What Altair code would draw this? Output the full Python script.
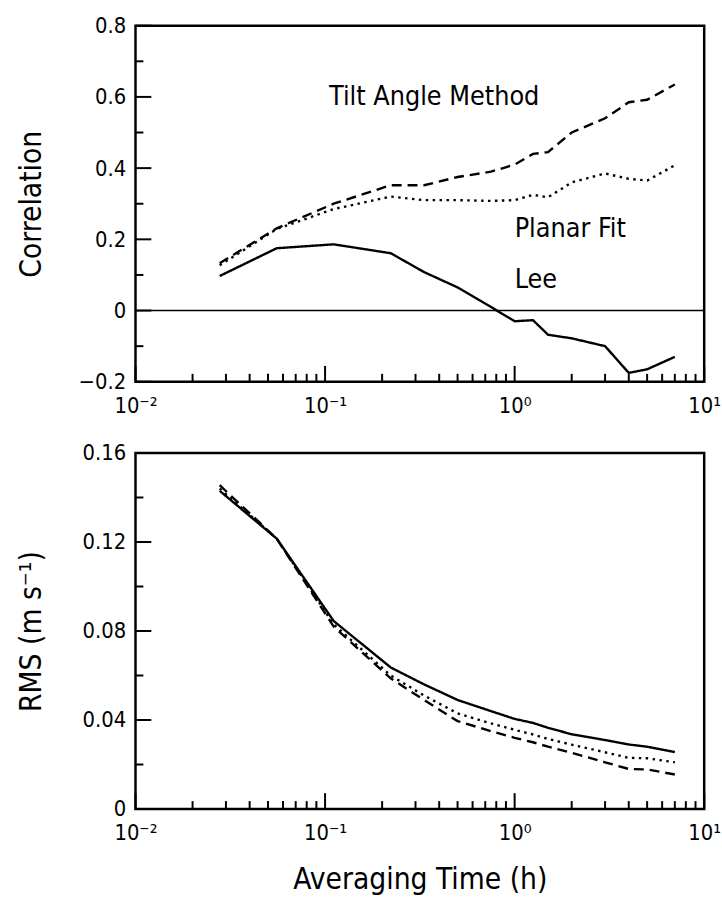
import altair as alt
import pandas as pd

# ---------------- data ----------------
hours = [0.0278, 0.0556, 0.111, 0.222, 0.333, 0.5, 0.75, 1.0, 1.25, 1.5, 2.0, 3.0, 4.0, 5.0, 7.0]

corr_tilt = [0.133, 0.231, 0.300, 0.352, 0.352, 0.375, 0.390, 0.410, 0.440, 0.445, 0.500, 0.540, 0.585, 0.592, 0.635]
corr_planar = [0.127, 0.229, 0.285, 0.320, 0.310, 0.310, 0.308, 0.310, 0.325, 0.318, 0.360, 0.385, 0.370, 0.365, 0.408]
corr_lee = [0.097, 0.175, 0.186, 0.161, 0.108, 0.065, 0.010, -0.030, -0.027, -0.068, -0.078, -0.100, -0.175, -0.165, -0.130]

rms_tilt = [0.1455, 0.1215, 0.0820, 0.0587, 0.0490, 0.0395, 0.0350, 0.0320, 0.0300, 0.0280, 0.0253, 0.0210, 0.0180, 0.0178, 0.0155]
rms_planar = [0.1440, 0.1215, 0.0830, 0.0600, 0.0510, 0.0430, 0.0385, 0.0356, 0.0335, 0.0315, 0.0289, 0.0255, 0.0230, 0.0228, 0.0210]
rms_lee = [0.1430, 0.1215, 0.0845, 0.0636, 0.0560, 0.0490, 0.0440, 0.0405, 0.0387, 0.0365, 0.0336, 0.0310, 0.0290, 0.0280, 0.0256]

methods = ["Tilt Angle Method", "Planar Fit", "Lee"]
label_text = ["Tilt Angle Method", "Planar Fit", "Lee"]
label_x = [0.105, 1.0, 1.0]
label_y = [0.6, 0.23, 0.085]

x_major = [0.01, 0.1, 1.0, 10.0]
x_minor = [m * d for d in (0.01, 0.1, 1.0) for m in range(2, 10)]
corr_major = [-0.2, 0.0, 0.2, 0.4, 0.6, 0.8]
corr_minor = [-0.1, 0.1, 0.3, 0.5, 0.7]
rms_major = [0.0, 0.04, 0.08, 0.12, 0.16]
rms_minor = [0.02, 0.06, 0.10, 0.14]

# ---------------- styling ----------------
FONT = "Liberation Sans Narrow, DejaVu Sans Condensed, Liberation Sans, sans-serif"
W, H = 575, 360
BIG, SMALL = 16, 8

xscale = alt.Scale(type="log", domain=[0.01, 10], nice=False)
dash_scale = alt.Scale(domain=methods, range=[[10, 6], [2.5, 4.5], [1, 0]])

x_label_expr = ("round(log(datum.value)/LN10) == -2 ? '10\u207b\u00b2' : "
                "round(log(datum.value)/LN10) == -1 ? '10\u207b\u00b9' : "
                "round(log(datum.value)/LN10) == 0 ? '10\u2070' : '10\u00b9'")


def long_frame(values_by_method):
    rows = []
    for m, vals in zip(methods, values_by_method):
        for h, v in zip(hours, vals):
            rows.append({"hours": h, "value": v, "method": m})
    return pd.DataFrame(rows)


def panel(df, ydomain, ymajor, yminor, ytitle, yfmt, xtitle, labels=None, zero=False):
    yscale = alt.Scale(domain=ydomain, nice=False, zero=False)
    if xtitle is None:
        x_axis = alt.Axis(values=x_major, labelExpr=x_label_expr, title=None,
                          labelFlush=False, labelOverlap=False)
    else:
        x_axis = alt.Axis(values=x_major, labelExpr=x_label_expr, title=xtitle,
                          labelFlush=False, labelOverlap=False)
    y_axis = alt.Axis(values=ymajor, title=ytitle, titleX=-90, titleY=H / 2,
                      labelExpr=yfmt, labelFlush=False, labelOverlap=False)

    lines = alt.Chart(df).mark_line(color="black", strokeWidth=2.4).encode(
        x=alt.X("hours:Q", scale=xscale, axis=x_axis),
        y=alt.Y("value:Q", scale=yscale, axis=y_axis),
        strokeDash=alt.StrokeDash("method:N", scale=dash_scale, legend=None),
        detail="method:N",
    )
    layers = [lines]

    def xticks(vals, ln):
        return alt.Chart(pd.DataFrame({"hours": vals})).mark_rule(color="black", strokeWidth=2).encode(
            x=alt.X("hours:Q", scale=xscale),
            y=alt.value(H), y2=alt.value(H - ln))

    def yticks(vals, ln):
        return alt.Chart(pd.DataFrame({"value": vals})).mark_rule(color="black", strokeWidth=2).encode(
            y=alt.Y("value:Q", scale=yscale),
            x=alt.value(0), x2=alt.value(ln))

    layers += [xticks(x_major, BIG), xticks(x_minor, SMALL), yticks(ymajor, BIG), yticks(yminor, SMALL)]

    if zero:
        layers.append(alt.Chart(pd.DataFrame({"value": [0.0]})).mark_rule(color="black", strokeWidth=1.5).encode(
            y=alt.Y("value:Q", scale=yscale), x=alt.value(0), x2=alt.value(W)))

    if labels is not None:
        layers.append(alt.Chart(labels).mark_text(align="left", baseline="middle", font=FONT,
                                                  fontSize=27, color="black").encode(
            x=alt.X("hours:Q", scale=xscale),
            y=alt.Y("value:Q", scale=yscale),
            text="txt:N"))

    return alt.layer(*layers).properties(width=W, height=H)


corr_df = long_frame([corr_tilt, corr_planar, corr_lee])
rms_df = long_frame([rms_tilt, rms_planar, rms_lee])
lab_df = pd.DataFrame({"hours": label_x, "value": label_y, "txt": label_text})

top = panel(corr_df, [-0.2, 0.8], corr_major, corr_minor, "Correlation",
            "datum.value == 0 ? '0' : format(datum.value, '.1f')", None, labels=lab_df, zero=True)
bottom = panel(rms_df, [0, 0.16], rms_major, rms_minor, "RMS (m s\u207b\u00b9)",
               "datum.value == 0 ? '0' : format(datum.value, '.2f')", "Averaging Time (h)")

chart = alt.vconcat(top, bottom, spacing=72, bounds="flush").properties(
    padding={"left": 15, "top": 8, "right": 0, "bottom": 0}
).configure_view(
    stroke="black", strokeWidth=2.5
).configure_axis(
    domain=False, ticks=False, grid=False,
    labelFont=FONT, labelFontSize=22, labelColor="black", labelPadding=10,
    titleFont=FONT, titleFontSize=30, titleFontWeight="normal", titleColor="black",
).configure_axisX(
    labelPadding=14, titlePadding=21
)

chart.save("out.html", embed_options={"renderer": "svg", "actions": False})
